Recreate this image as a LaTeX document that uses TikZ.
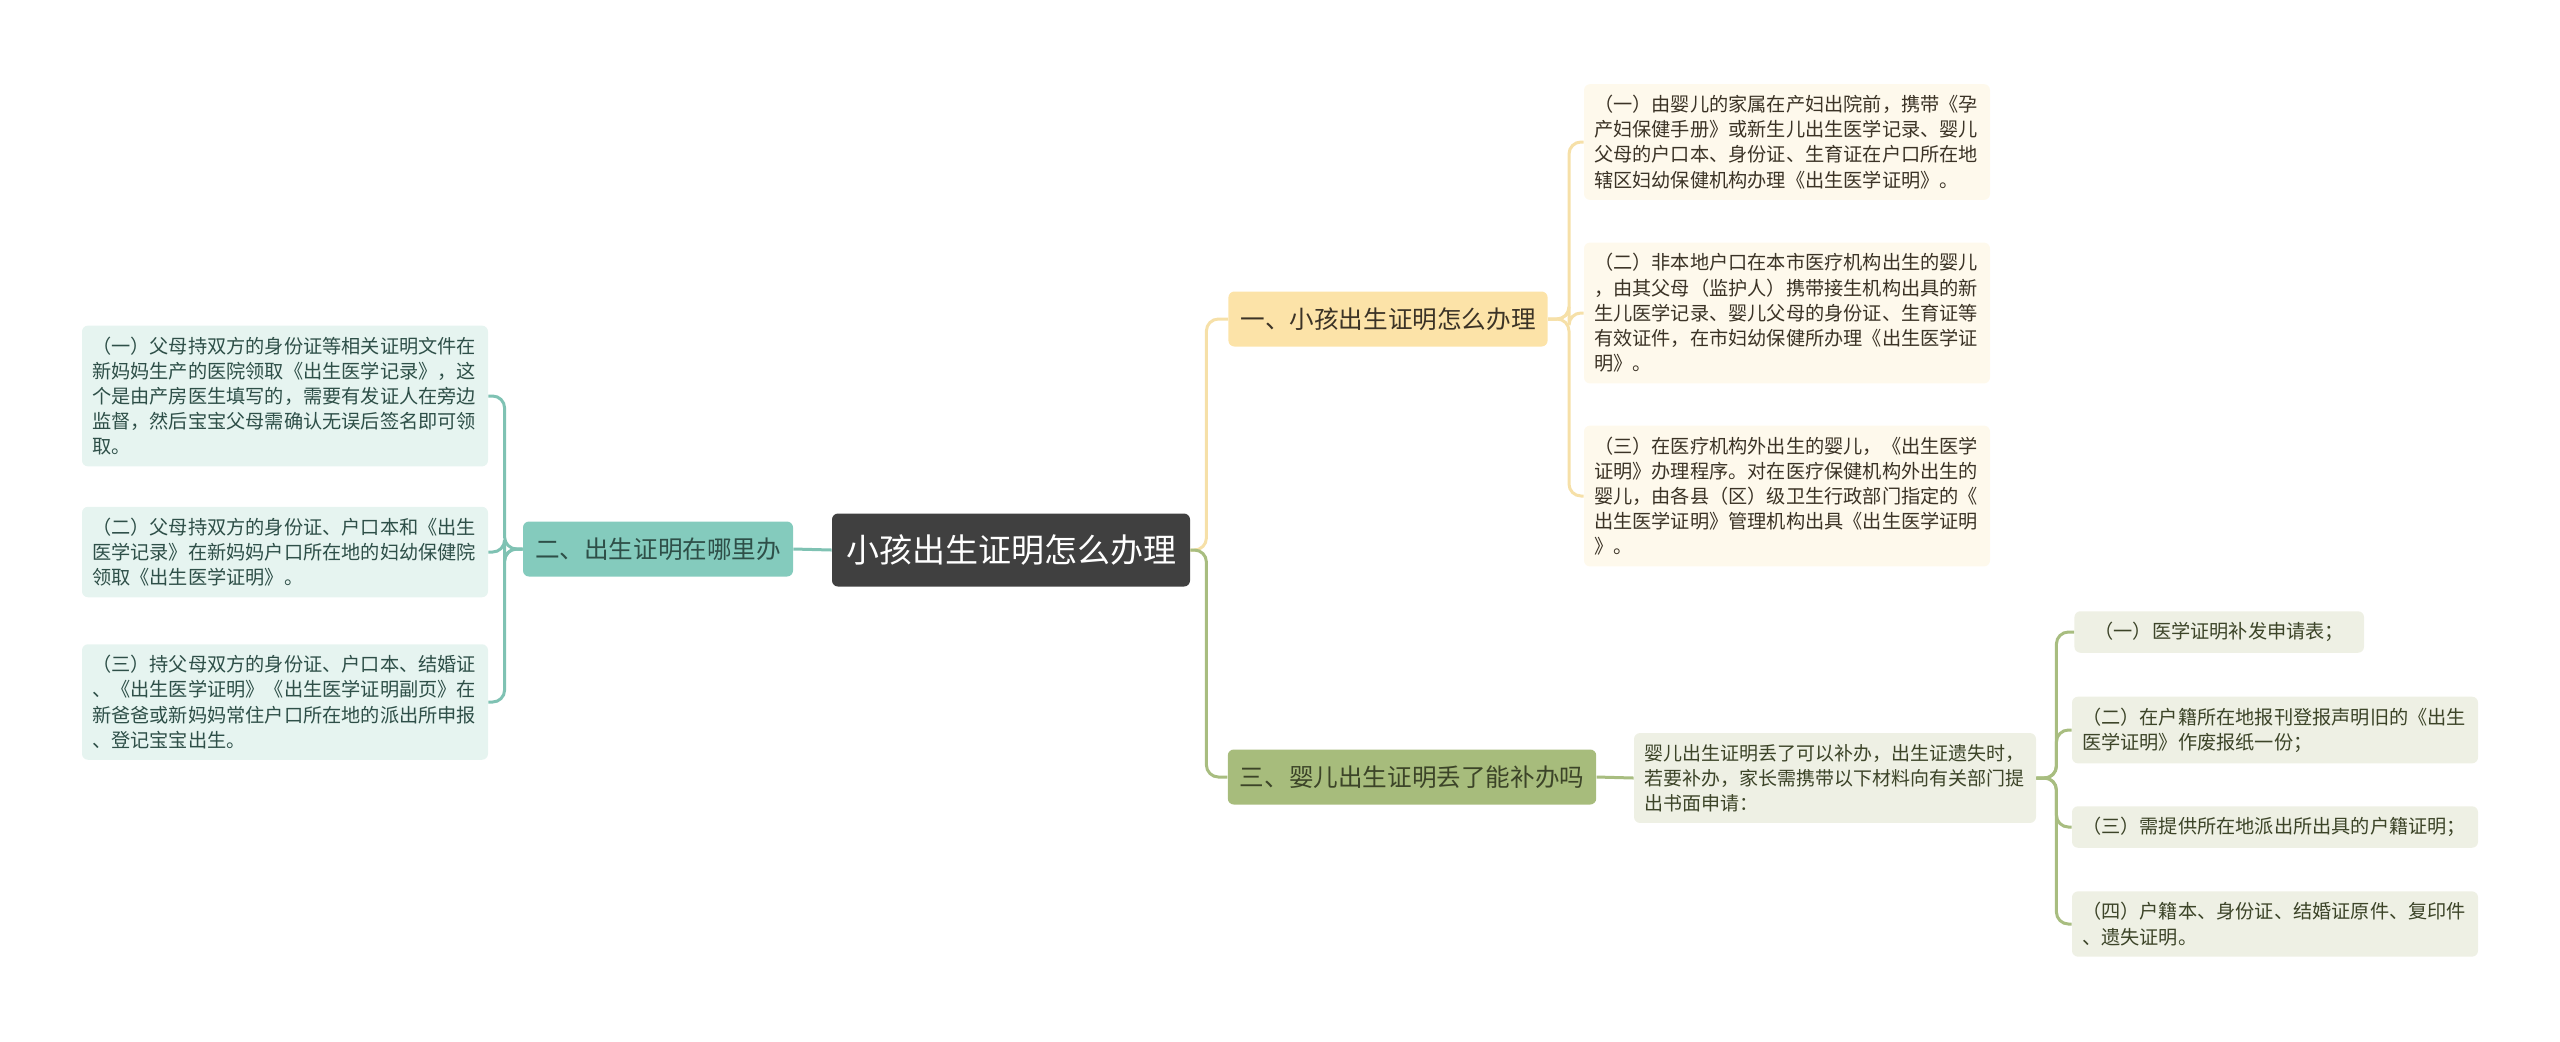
\documentclass[tikz,border=0pt]{standalone}
\usepackage{fontspec}
\setmainfont{Noto Sans CJK SC}
\usetikzlibrary{positioning}

\definecolor{rootgray}{HTML}{404040}
\definecolor{tealfill}{HTML}{84CBBD}
\definecolor{tealleaf}{HTML}{E6F4F0}
\definecolor{tealedge}{HTML}{7FC2B3}
\definecolor{tealtext}{HTML}{2E4F48}
\definecolor{yellowfill}{HTML}{FCE3A8}
\definecolor{yellowleaf}{HTML}{FEF9EC}
\definecolor{yellowedge}{HTML}{F6E0A8}
\definecolor{yellowtext}{HTML}{3B3326}
\definecolor{greenfill}{HTML}{A7BC7C}
\definecolor{greenleaf}{HTML}{EEF0E4}
\definecolor{greenedge}{HTML}{A8BD80}
\definecolor{greentext}{HTML}{3C4428}

\newcommand\leaffont{\fontsize{9.6}{12.6}\selectfont}
\newcommand\branchfont{\fontsize{12.3}{15}\selectfont}

\begin{document}
\begin{tikzpicture}[x=0.5pt,y=-0.5pt,
  every node/.style={rounded corners=3pt,font=\leaffont},
  rootbox/.style={fill=rootgray,text=white,font=\fontsize{16.5}{20}\selectfont,
    minimum height=36.5pt,inner xsep=7pt},
  branchbox/.style={font=\branchfont,minimum height=27.5pt,inner xsep=6pt},
  leafbox/.style={text width=193pt,align=left,inner xsep=5pt,inner ysep=5.5pt},
  tealbranch/.style={branchbox,fill=tealfill,text=tealtext},
  yellowbranch/.style={branchbox,fill=yellowfill,text=yellowtext},
  greenbranch/.style={branchbox,fill=greenfill,text=greentext},
  tealbox/.style={leafbox,fill=tealleaf,text=tealtext},
  yellowbox/.style={leafbox,fill=yellowleaf,text=yellowtext},
  greenbox/.style={leafbox,fill=greenleaf,text=greentext},
  tealline/.style={draw=tealedge,line width=1.5pt,rounded corners=6pt},
  yellowline/.style={draw=yellowedge,line width=1.5pt,rounded corners=6pt},
  greenline/.style={draw=greenedge,line width=1.5pt,rounded corners=6pt}
  ]
\useasboundingbox (0,0) rectangle (2560,1041);

% centre
\node[rootbox] (root) at (1011,550) {小孩出生证明怎么办理};

% left branch
\node[tealbranch] (two) at (658,549) {二、出生证明在哪里办};
\node[tealbox] (l1) at (285,396) {（一）父母持双方的身份证等相关证明文件在\\新妈妈生产的医院领取《出生医学记录》，这\\个是由产房医生填写的，需要有发证人在旁边\\监督，然后宝宝父母需确认无误后签名即可领\\取。};
\node[tealbox] (l2) at (285,552) {（二）父母持双方的身份证、户口本和《出生\\医学记录》在新妈妈户口所在地的妇幼保健院\\领取《出生医学证明》。};
\node[tealbox] (l3) at (285,702) {（三）持父母双方的身份证、户口本、结婚证\\、《出生医学证明》《出生医学证明副页》在\\新爸爸或新妈妈常住户口所在地的派出所申报\\、登记宝宝出生。};

% upper right branch
\node[yellowbranch] (one) at (1388,319) {一、小孩出生证明怎么办理};
\node[yellowbox] (r1) at (1787,142) {（一）由婴儿的家属在产妇出院前，携带《孕\\产妇保健手册》或新生儿出生医学记录、婴儿\\父母的户口本、身份证、生育证在户口所在地\\辖区妇幼保健机构办理《出生医学证明》。};
\node[yellowbox] (r2) at (1787,313) {（二）非本地户口在本市医疗机构出生的婴儿\\，由其父母（监护人）携带接生机构出具的新\\生儿医学记录、婴儿父母的身份证、生育证等\\有效证件，在市妇幼保健所办理《出生医学证\\明》。};
\node[yellowbox] (r3) at (1787,496) {（三）在医疗机构外出生的婴儿，《出生医学\\证明》办理程序。对在医疗保健机构外出生的\\婴儿，由各县（区）级卫生行政部门指定的《\\出生医学证明》管理机构出具《出生医学证明\\》。};

% lower right branch
\node[greenbranch] (three) at (1412,777) {三、婴儿出生证明丢了能补办吗};
\node[greenbox,text width=191pt,font=\fontsize{9.5}{12.6}\selectfont] (lost) at (1835,778) {婴儿出生证明丢了可以补办，出生证遗失时，\\若要补办，家长需携带以下材料向有关部门提\\出书面申请：};
\node[greenbox,text width=,anchor=west,inner xsep=10pt] (g1) at (2074,632) {（一）医学证明补发申请表；};
\node[greenbox] (g2) at (2275,730) {（二）在户籍所在地报刊登报声明旧的《出生\\医学证明》作废报纸一份；};
\node[greenbox] (g3) at (2275,827) {（三）需提供所在地派出所出具的户籍证明；};
\node[greenbox] (g4) at (2275,924) {（四）户籍本、身份证、结婚证原件、复印件\\、遗失证明。};

% connectors
\draw[tealline] (root.west) -- (two.east);
\foreach \n in {l1,l2,l3}
  \draw[tealline] (two.west) -- ++(-18,0) |- (\n.east);
\draw[yellowline] (root.east) -- ++(16,0) |- (one.west);
\draw[greenline] (root.east) -- ++(16,0) |- (three.west);
\foreach \n in {r1,r2,r3}
  \draw[yellowline] (one.east) -- ++(21,0) |- (\n.west);
\draw[greenline] (three.east) -- (lost.west);
\foreach \n in {g1,g2,g3,g4}
  \draw[greenline] (lost.east) -- ++(20,0) |- (\n.west);
\end{tikzpicture}
\end{document}
